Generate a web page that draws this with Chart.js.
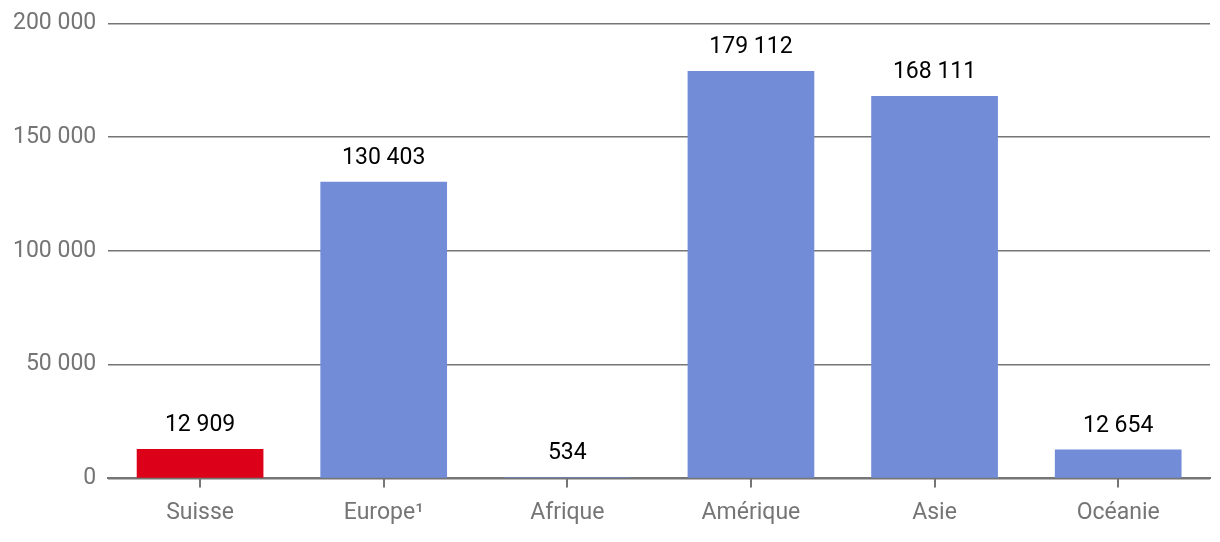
<!DOCTYPE html>
<html><head><meta charset="utf-8">
<script src="https://cdn.jsdelivr.net/npm/chart.js@4"></script>
<style>html,body{margin:0;padding:0;background:#fff}#wrap{width:1220px;height:542px}</style>
</head><body><div id="wrap"><canvas id="c"></canvas></div>
<script>
const categories = ["Suisse", "Europe¹", "Afrique", "Amérique", "Asie", "Océanie"];
const values = [12909, 130403, 534, 179112, 168111, 12654];
const barColors = ["#dd0019", "#728cd8", "#728cd8", "#728cd8", "#728cd8", "#728cd8"];
const yTicks = [0, 50000, 100000, 150000, 200000];

const fmt = v => String(Math.round(v)).replace(/\B(?=(\d{3})+(?!\d))/g, " ");

const labelPlugin = {
  id: 'barLabels',
  afterDatasetsDraw(chart) {
    const ctx = chart.ctx;
    const meta = chart.getDatasetMeta(0);
    ctx.save();
    ctx.font = '23px Roboto';
    ctx.fillStyle = '#000';
    ctx.textAlign = 'center';
    ctx.textBaseline = 'bottom';
    meta.data.forEach((bar, i) => {
      ctx.fillText(fmt(values[i]), bar.x, bar.y - 12);
    });
    ctx.restore();
  }
};

new Chart(document.getElementById('c'), {
  type: 'bar',
  data: {
    labels: categories,
    datasets: [{ data: values, backgroundColor: barColors, barPercentage: 0.69, categoryPercentage: 1 }]
  },
  options: {
    responsive: true, maintainAspectRatio: false, animation: false,
    layout: { padding: { top: 9, right: 10, left: 1, bottom: 3 } },
    plugins: { legend: { display: false }, tooltip: { enabled: false } },
    scales: {
      x: {
        z: 1,
        grid: { drawOnChartArea: false, offset: false, color: '#757575', lineWidth: 2, tickLength: 9 },
        border: { display: true, color: '#757575', width: 2 },
        ticks: { color: '#757575', font: { family: 'Roboto', size: 23 }, padding: 12 }
      },
      y: {
        min: 0, max: 200000,
        afterBuildTicks: s => { s.ticks = yTicks.map(v => ({ value: v })); },
        grid: { color: '#757575', lineWidth: 1.5, drawTicks: false },
        border: { display: false },
        ticks: { color: '#757575', font: { family: 'Roboto', size: 23, lineHeight: 1 }, padding: 12, callback: v => fmt(v) }
      }
    }
  },
  plugins: [labelPlugin]
});
</script></body></html>
